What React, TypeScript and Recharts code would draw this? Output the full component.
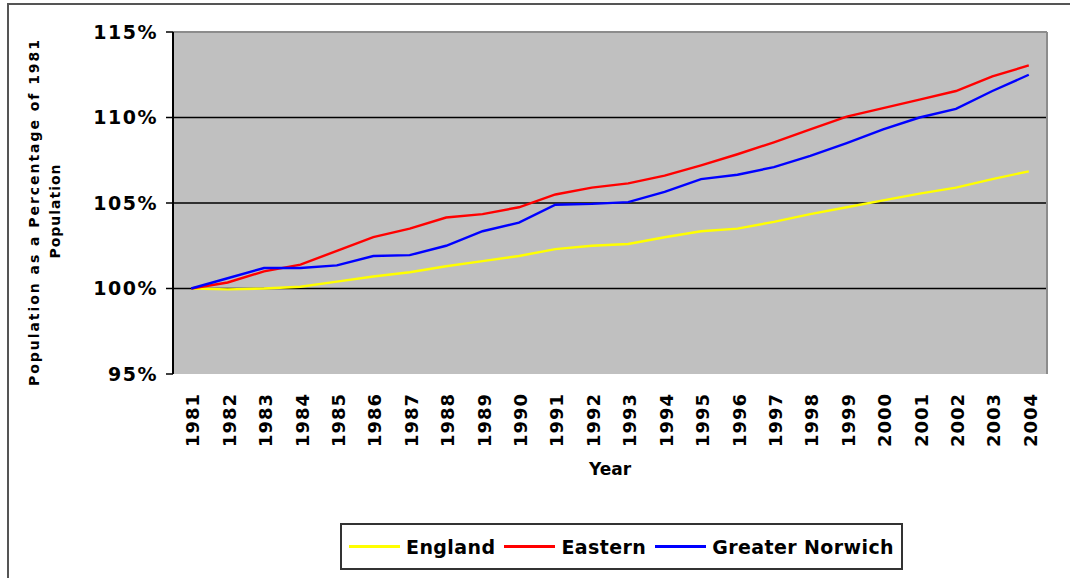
import { LineChart, Line, XAxis, YAxis, CartesianGrid, Legend, ReferenceLine } from "recharts";

const years = [
  1981, 1982, 1983, 1984, 1985, 1986, 1987, 1988, 1989, 1990, 1991, 1992,
  1993, 1994, 1995, 1996, 1997, 1998, 1999, 2000, 2001, 2002, 2003, 2004,
];

const england = [
  100, 99.95, 100.0, 100.1, 100.4, 100.7, 100.95, 101.3, 101.6, 101.9, 102.3, 102.5,
  102.6, 103.0, 103.35, 103.5, 103.9, 104.35, 104.75, 105.15, 105.55, 105.9, 106.4, 106.85,
];

const eastern = [
  100, 100.35, 101.0, 101.4, 102.2, 103.0, 103.5, 104.15, 104.35, 104.75, 105.5, 105.9,
  106.15, 106.6, 107.2, 107.85, 108.55, 109.3, 110.05, 110.55, 111.05, 111.55, 112.4, 113.05,
];

const greaterNorwich = [
  100, 100.6, 101.2, 101.2, 101.35, 101.9, 101.95, 102.5, 103.35, 103.85, 104.9, 104.95,
  105.05, 105.65, 106.4, 106.65, 107.1, 107.75, 108.5, 109.3, 110.0, 110.5, 111.55, 112.5,
];

const yTicks = [95, 100, 105, 110, 115];
const gridValues = [100, 105, 110];
const boundaryTicks = [
  1980.5, 1981.5, 1982.5, 1983.5, 1984.5, 1985.5, 1986.5, 1987.5, 1988.5, 1989.5, 1990.5,
  1991.5, 1992.5, 1993.5, 1994.5, 1995.5, 1996.5, 1997.5, 1998.5, 1999.5, 2000.5, 2001.5,
  2002.5, 2003.5, 2004.5,
];

const series = [
  { name: "England", color: "#ffff00", values: england },
  { name: "Eastern", color: "#ff0000", values: eastern },
  { name: "Greater Norwich", color: "#0000ff", values: greaterNorwich },
];

const data = years.map((year, i) => {
  const row: Record<string, number> = { year };
  series.forEach((s) => {
    row[s.name] = s.values[i];
  });
  return row;
});

const FONT = "'DejaVu Sans', Verdana, sans-serif";

function YearTick(props: any) {
  const { x, y, payload } = props;
  return (
    <text
      x={x}
      y={y}
      dy="0.45em"
      transform={`rotate(-90, ${x}, ${y})`}
      textAnchor="end"
      fill="#000"
      fontFamily={FONT}
      fontWeight="bold"
      fontSize={18}
      letterSpacing={1}
    >
      {payload.value}
    </text>
  );
}

function YLabel(props: any) {
  const vb = props.viewBox || { x: 0, y: 32, width: 173, height: 342 };
  const cy = vb.y + vb.height / 2 + 10;
  return (
    <g fontFamily={FONT} fontWeight="bold" fontSize={14} fill="#000">
      <text
        x={34}
        y={cy}
        dy="0.35em"
        textAnchor="middle"
        transform={`rotate(-90, 34, ${cy})`}
        textLength={346}
        lengthAdjust="spacing"
      >
        Population as a Percentage of 1981
      </text>
      <text
        x={55}
        y={cy - 2}
        dy="0.35em"
        textAnchor="middle"
        transform={`rotate(-90, 55, ${cy - 2})`}
        letterSpacing={1}
      >
        Population
      </text>
    </g>
  );
}

function XLabel(props: any) {
  const vb = props.viewBox || { x: 173, y: 374, width: 874, height: 204 };
  return (
    <text
      x={vb.x + vb.width / 2}
      y={475}
      textAnchor="middle"
      fontFamily={FONT}
      fontWeight="bold"
      fontSize={17}
      fill="#000"
    >
      Year
    </text>
  );
}

function LegendBox() {
  return (
    <div
      style={{
        width: "100%",
        height: "100%",
        boxSizing: "border-box",
        border: "2px solid #333",
        background: "#fff",
        display: "flex",
        alignItems: "center",
        justifyContent: "center",
        fontFamily: FONT,
      }}
    >
      {series.map((s, i) => (
        <div
          key={s.name}
          style={{ display: "flex", alignItems: "center", marginLeft: i === 0 ? 0 : 9 }}
        >
          <div style={{ width: 51, height: 3, background: s.color, marginRight: 6 }} />
          <span style={{ fontWeight: "bold", fontSize: 19, letterSpacing: 0.4, color: "#000" }}>
            {s.name}
          </span>
        </div>
      ))}
    </div>
  );
}

export default function App() {
  return (
    <div
      style={{
        position: "absolute",
        left: 0,
        top: 0,
        width: 1070,
        height: 578,
        background: "#fff",
        overflow: "hidden",
      }}
    >
      <div
        style={{
          position: "absolute",
          left: 7,
          top: 3,
          width: 1080,
          height: 600,
          borderTop: "2px solid #555",
          borderLeft: "2px solid #555",
        }}
      />
      <LineChart
        width={1070}
        height={578}
        data={data}
        margin={{ top: 32, right: 23, bottom: 0, left: 0 }}
        style={{ position: "absolute", left: 0, top: 0 }}
      >
        <CartesianGrid
          horizontal
          vertical={false}
          horizontalValues={gridValues}
          stroke="#000"
          strokeWidth={1.5}
          fill="#c0c0c0"
          fillOpacity={1}
          xAxisId="labels"
        />
        <XAxis
          xAxisId="marks"
          type="number"
          dataKey="year"
          domain={[1980.5, 2004.5]}
          ticks={boundaryTicks}
          interval={0}
          height={0}
          tick={() => <g />}
          tickSize={8}
          tickLine={{ stroke: "#000", strokeWidth: 1.5 }}
          axisLine={{ stroke: "#000", strokeWidth: 2 }}
        />
        <XAxis
          xAxisId="labels"
          type="number"
          dataKey="year"
          domain={[1980.5, 2004.5]}
          ticks={years}
          interval={0}
          height={204}
          tickLine={false}
          axisLine={false}
          tickSize={0}
          tickMargin={19}
          tick={<YearTick />}
          label={{ content: <XLabel /> }}
        />
        <YAxis
          domain={[95, 115]}
          ticks={yTicks}
          interval={0}
          width={173}
          tickFormatter={(v) => `${v}%`}
          tick={{ fill: "#000", fontSize: 19, fontWeight: "bold", fontFamily: FONT, letterSpacing: 1.5 }}
          tickSize={7}
          tickMargin={8}
          tickLine={{ stroke: "#000", strokeWidth: 1.5 }}
          axisLine={{ stroke: "#000", strokeWidth: 2 }}
          label={{ content: <YLabel /> }}
        />
        <ReferenceLine y={115} xAxisId="labels" stroke="#8c8c8c" strokeWidth={2} />
        <ReferenceLine x={2004.5} xAxisId="labels" stroke="#8c8c8c" strokeWidth={2} />
        {series.map((s) => (
          <Line
            key={s.name}
            xAxisId="labels"
            type="linear"
            dataKey={s.name}
            stroke={s.color}
            strokeWidth={2.4}
            dot={false}
            activeDot={false}
            isAnimationActive={false}
          />
        ))}
        <Legend
          verticalAlign="middle"
          width={563}
          height={47}
          wrapperStyle={{ left: 340, top: 523, width: 563, height: 47 }}
          content={() => <LegendBox />}
        />
      </LineChart>
    </div>
  );
}
